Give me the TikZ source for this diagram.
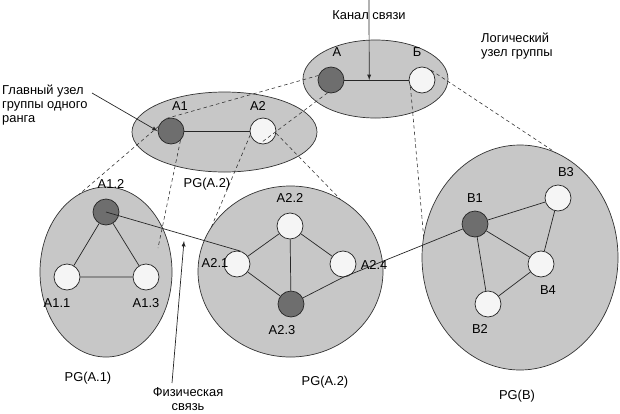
\documentclass[tikz,border=0pt]{standalone}
\usepackage{fontspec}
\setmainfont{Liberation Sans}
\usetikzlibrary{positioning,calc,shapes.geometric}

\begin{document}
\begin{tikzpicture}[
    x=0.03cm, y=-0.03cm,
    >=latex,
    grp/.style={ellipse, draw=black!80, fill=black!22, line width=0.6pt, inner sep=0pt, outer sep=0pt},
    hub/.style={circle, draw=black!85, fill=black!57, line width=0.6pt, minimum size=0.78cm, inner sep=0pt},
    leaf/.style={circle, draw=black!85, fill=black!4, line width=0.6pt, minimum size=0.78cm, inner sep=0pt},
    tag/.style={font=\fontsize{11}{11.8}\selectfont, inner sep=0pt},
    proj/.style={draw=black!80, dash pattern=on 3pt off 2.5pt, line width=0.5pt},
    link/.style={draw=black!85, line width=0.6pt}
  ]
  \useasboundingbox (0,0) rectangle (620,413);
  % groups
  \node[grp, minimum width=4.35cm, minimum height=2.34cm] (grpTop) at (375.5,79) {};
  \node[grp, minimum width=5.55cm, minimum height=2.4cm]  (grpA)   at (224.5,132) {};
  \node[grp, minimum width=3.96cm, minimum height=5.1cm]  (grpA1)  at (106,272) {};
  \node[grp, minimum width=5.55cm, minimum height=5.13cm] (grpA2)  at (290.5,271.5) {};
  \node[grp, minimum width=5.88cm, minimum height=6.75cm] (grpB)   at (520,257.5) {};
  % nodes
  \node[hub]  (lA)  at (331,80) {};
  \node[leaf] (lB)  at (422,80) {};
  \node[hub]  (A1)  at (171,131) {};
  \node[leaf] (A2)  at (263,131) {};
  \node[hub]  (A12) at (106,212) {};
  \node[leaf] (A11) at (67,277) {};
  \node[leaf] (A13) at (146,277) {};
  \node[leaf] (A22) at (290,226) {};
  \node[leaf] (A21) at (237,264) {};
  \node[leaf] (A24) at (343,264) {};
  \node[hub]  (A23) at (291,304) {};
  \node[hub]  (B1)  at (475,224) {};
  \node[leaf] (B3)  at (558,198) {};
  \node[leaf] (B4)  at (541,264) {};
  \node[leaf] (B2)  at (488,304) {};
  % projection lines
  \coordinate (a1drop) at (158,248);
  \draw[proj] (lA.160) -- (A1.110);
  \draw[proj] (lA.255) -- (A2.255);
  \draw[proj] (A1.160) -- (grpA1.109);
  \draw[proj] (A1.315) -- (a1drop);
  \draw[proj] (A2.197) -- (grpA2.151);
  \draw[proj] (A2.350) -- (grpA2.55);
  \draw[proj] (lB.210) -- (grpB.168);
  \draw[proj] (lB.47)  -- (grpB.71);
  % edges
  \draw[link] (lA) -- (lB);
  \draw[link] (A1) -- (A2);
  \draw[link] (A12) -- (A11) (A12) -- (A13) (A11) -- (A13);
  \draw[link] (A22) -- (A21) (A22) -- (A24) (A22) -- (A23) (A21) -- (A23) (A23) -- (A24.south);
  \draw[link] (B1) -- (B3) (B1) -- (B4) (B1) -- (B2) (B3) -- (B4) (B4) -- (B2);
  % physical links
  \draw[link] (A12.center) -- (A21.75);
  \draw[link] (A24.south) -- (B1);
  % labels
  \node[tag] (tA)   at (337,52)  {А};
  \node[tag] (tB)   at (417,52)  {Б};
  \node[tag] (tA1)  at (180,106) {A1};
  \node[tag] (tA2)  at (258,106) {A2};
  \node[tag] (tPGa) at (207,184) {PG(A.2)};
  \node[tag] (tA12) at (111,184) {A1.2};
  \node[tag] (tA11) at (57,303)  {A1.1};
  \node[tag] (tA13) at (146,303) {A1.3};
  \node[tag] (tA22) at (290,198) {A2.2};
  \node[tag] (tA21) at (215,263) {A2.1};
  \node[tag] (tA24) at (374,265) {A2.4};
  \node[tag] (tA23) at (282,330) {A2.3};
  \node[tag] (tB1)  at (475,198) {B1};
  \node[tag] (tB3)  at (566,172) {B3};
  \node[tag] (tB4)  at (548,290) {B4};
  \node[tag] (tB2)  at (480,329) {B2};
  \node[tag] (tPG1) at (88,378)  {PG(A.1)};
  \node[tag] (tPG2) at (325,382) {PG(A.2)};
  \node[tag] (tPGB) at (517,396) {PG(B)};
  \node[tag] (tChan) at (369,15) {Канал связи};
  \node[tag, align=left, anchor=west] (tLog) at (481,46) {Логический\\узел группы};
  \node[tag, align=left, anchor=west] (tMain) at (2,105) {Главный узел\\группы одного\\ранга};
  \node[tag, align=center] (tPhys) at (188,399) {Физическая\\связь};
  % arrows
  \coordinate (chanTop) at (369,0);
  \coordinate (chanMid) at ($(lA)!0.42!(lB)$);
  \draw[->, link] (chanTop) -- (chanMid);
  \coordinate (mainTail) at (92,93);
  \draw[->, link] (mainTail) -- (A1.west);
  \coordinate (physTail) at (172,383);
  \coordinate (physTip) at (184,241);
  \draw[->, link] (physTail) -- (physTip);
\end{tikzpicture}
\end{document}
